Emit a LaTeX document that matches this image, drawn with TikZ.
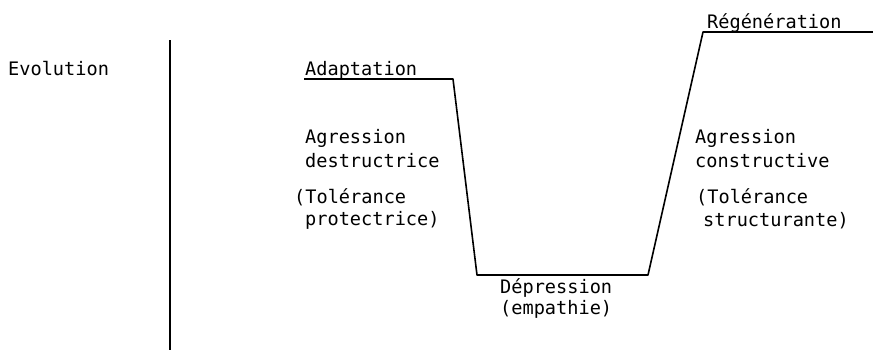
\documentclass[tikz,border=0pt]{standalone}
\usepackage{fontspec}
\setmonofont{DejaVu Sans Mono}
\usepackage{tikz}
\usetikzlibrary{positioning}

\begin{document}
\begin{tikzpicture}[x=1pt, y=-1pt,
  lbl/.style={anchor=base west, inner sep=0pt,
    font=\fontsize{18.6}{22}\selectfont\ttfamily},
  curve/.style={line width=1.6pt, line join=round},
  axis/.style={line width=1.8pt}
]
\useasboundingbox (0,0) rectangle (873,351);

% left column
\node[lbl] (evo) at (8,75) {Evolution};
\coordinate (ax0) at (170,40);
\coordinate (ax1) at (170,350);
\draw[axis] (ax0) -- (ax1);

% trajectory
\coordinate (a0) at (304,79);
\coordinate (a1) at (453,79);
\coordinate (d0) at (477,275);
\coordinate (d1) at (648,275);
\coordinate (r0) at (703,32);
\coordinate (r1) at (873,32);
\draw[curve] (a0) -- (a1) -- (d0) -- (d1) -- (r0) -- (r1);

\node[lbl] (adapt) at (305,75) {Adaptation};
\node[lbl] (regen) at (707,28) {Régénération};

\node[lbl] (agrd1) at (305,143) {Agression};
\node[lbl] (agrd2) at (305,167) {destructrice};
\node[lbl] (tolp1) at (294,203) {(Tolérance};
\node[lbl] (tolp2) at (305,225) {protectrice)};

\node[lbl] (dep1) at (500,293) {Dépression};
\node[lbl] (dep2) at (500,314) {(empathie)};

\node[lbl] (agrc1) at (695,143) {Agression};
\node[lbl] (agrc2) at (695,167) {constructive};
\node[lbl] (tolc1) at (696,203) {(Tolérance};
\node[lbl] (tolc2) at (703,226) {structurante)};

\end{tikzpicture}
\end{document}
